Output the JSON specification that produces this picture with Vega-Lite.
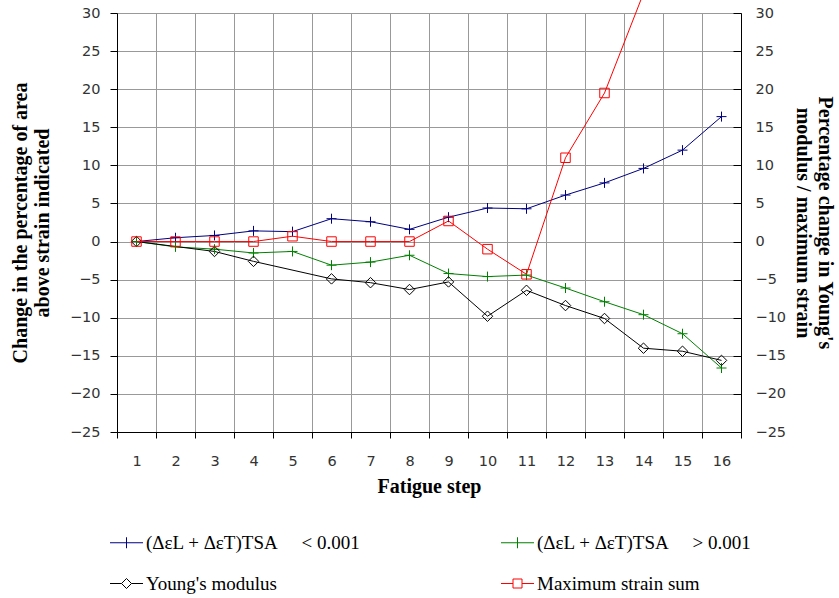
{
  "$schema": "https://vega.github.io/schema/vega-lite/v6.json",
  "width": 624,
  "height": 419,
  "autosize": {"type": "none"},
  "padding": {"left": 117, "top": 13, "right": 98, "bottom": 166},
  "background": "white",
  "config": {
    "view": {"stroke": null},
    "axis": {
      "labelFont": "DejaVu Sans",
      "labelFontSize": 14.5,
      "labelColor": "#333333",
      "titleFont": "Liberation Serif",
      "titleFontSize": 20,
      "titleFontWeight": "bold",
      "titleColor": "black",
      "domainColor": "black",
      "tickColor": "black",
      "gridColor": "#999999",
      "gridWidth": 1
    }
  },
  "data": {
    "values": [
      {"step": 1, "series": "(ΔεL + ΔεT)TSA\u00a0\u00a0\u00a0\u00a0\u00a0< 0.001", "value": 0},
      {"step": 2, "series": "(ΔεL + ΔεT)TSA\u00a0\u00a0\u00a0\u00a0\u00a0< 0.001", "value": 0.5},
      {"step": 3, "series": "(ΔεL + ΔεT)TSA\u00a0\u00a0\u00a0\u00a0\u00a0< 0.001", "value": 0.8},
      {"step": 4, "series": "(ΔεL + ΔεT)TSA\u00a0\u00a0\u00a0\u00a0\u00a0< 0.001", "value": 1.4},
      {"step": 5, "series": "(ΔεL + ΔεT)TSA\u00a0\u00a0\u00a0\u00a0\u00a0< 0.001", "value": 1.3},
      {"step": 6, "series": "(ΔεL + ΔεT)TSA\u00a0\u00a0\u00a0\u00a0\u00a0< 0.001", "value": 3.0},
      {"step": 7, "series": "(ΔεL + ΔεT)TSA\u00a0\u00a0\u00a0\u00a0\u00a0< 0.001", "value": 2.6},
      {"step": 8, "series": "(ΔεL + ΔεT)TSA\u00a0\u00a0\u00a0\u00a0\u00a0< 0.001", "value": 1.6},
      {"step": 9, "series": "(ΔεL + ΔεT)TSA\u00a0\u00a0\u00a0\u00a0\u00a0< 0.001", "value": 3.2},
      {"step": 10, "series": "(ΔεL + ΔεT)TSA\u00a0\u00a0\u00a0\u00a0\u00a0< 0.001", "value": 4.4},
      {"step": 11, "series": "(ΔεL + ΔεT)TSA\u00a0\u00a0\u00a0\u00a0\u00a0< 0.001", "value": 4.3},
      {"step": 12, "series": "(ΔεL + ΔεT)TSA\u00a0\u00a0\u00a0\u00a0\u00a0< 0.001", "value": 6.1},
      {"step": 13, "series": "(ΔεL + ΔεT)TSA\u00a0\u00a0\u00a0\u00a0\u00a0< 0.001", "value": 7.7},
      {"step": 14, "series": "(ΔεL + ΔεT)TSA\u00a0\u00a0\u00a0\u00a0\u00a0< 0.001", "value": 9.6},
      {"step": 15, "series": "(ΔεL + ΔεT)TSA\u00a0\u00a0\u00a0\u00a0\u00a0< 0.001", "value": 12.0},
      {"step": 16, "series": "(ΔεL + ΔεT)TSA\u00a0\u00a0\u00a0\u00a0\u00a0< 0.001", "value": 16.4},
      {"step": 1, "series": "(ΔεL + ΔεT)TSA\u00a0\u00a0\u00a0\u00a0\u00a0> 0.001", "value": 0},
      {"step": 2, "series": "(ΔεL + ΔεT)TSA\u00a0\u00a0\u00a0\u00a0\u00a0> 0.001", "value": -0.7},
      {"step": 3, "series": "(ΔεL + ΔεT)TSA\u00a0\u00a0\u00a0\u00a0\u00a0> 0.001", "value": -1.0},
      {"step": 4, "series": "(ΔεL + ΔεT)TSA\u00a0\u00a0\u00a0\u00a0\u00a0> 0.001", "value": -1.5},
      {"step": 5, "series": "(ΔεL + ΔεT)TSA\u00a0\u00a0\u00a0\u00a0\u00a0> 0.001", "value": -1.3},
      {"step": 6, "series": "(ΔεL + ΔεT)TSA\u00a0\u00a0\u00a0\u00a0\u00a0> 0.001", "value": -3.1},
      {"step": 7, "series": "(ΔεL + ΔεT)TSA\u00a0\u00a0\u00a0\u00a0\u00a0> 0.001", "value": -2.7},
      {"step": 8, "series": "(ΔεL + ΔεT)TSA\u00a0\u00a0\u00a0\u00a0\u00a0> 0.001", "value": -1.8},
      {"step": 9, "series": "(ΔεL + ΔεT)TSA\u00a0\u00a0\u00a0\u00a0\u00a0> 0.001", "value": -4.2},
      {"step": 10, "series": "(ΔεL + ΔεT)TSA\u00a0\u00a0\u00a0\u00a0\u00a0> 0.001", "value": -4.6},
      {"step": 11, "series": "(ΔεL + ΔεT)TSA\u00a0\u00a0\u00a0\u00a0\u00a0> 0.001", "value": -4.4},
      {"step": 12, "series": "(ΔεL + ΔεT)TSA\u00a0\u00a0\u00a0\u00a0\u00a0> 0.001", "value": -6.1},
      {"step": 13, "series": "(ΔεL + ΔεT)TSA\u00a0\u00a0\u00a0\u00a0\u00a0> 0.001", "value": -7.9},
      {"step": 14, "series": "(ΔεL + ΔεT)TSA\u00a0\u00a0\u00a0\u00a0\u00a0> 0.001", "value": -9.6},
      {"step": 15, "series": "(ΔεL + ΔεT)TSA\u00a0\u00a0\u00a0\u00a0\u00a0> 0.001", "value": -12.1},
      {"step": 16, "series": "(ΔεL + ΔεT)TSA\u00a0\u00a0\u00a0\u00a0\u00a0> 0.001", "value": -16.6},
      {"step": 1, "series": "Young's modulus", "value": 0},
      {"step": 3, "series": "Young's modulus", "value": -1.3},
      {"step": 4, "series": "Young's modulus", "value": -2.6},
      {"step": 6, "series": "Young's modulus", "value": -4.9},
      {"step": 7, "series": "Young's modulus", "value": -5.4},
      {"step": 8, "series": "Young's modulus", "value": -6.3},
      {"step": 9, "series": "Young's modulus", "value": -5.3},
      {"step": 10, "series": "Young's modulus", "value": -9.8},
      {"step": 11, "series": "Young's modulus", "value": -6.4},
      {"step": 12, "series": "Young's modulus", "value": -8.4},
      {"step": 13, "series": "Young's modulus", "value": -10.1},
      {"step": 14, "series": "Young's modulus", "value": -14.0},
      {"step": 15, "series": "Young's modulus", "value": -14.4},
      {"step": 16, "series": "Young's modulus", "value": -15.6},
      {"step": 1, "series": "Maximum strain sum", "value": 0},
      {"step": 2, "series": "Maximum strain sum", "value": 0},
      {"step": 3, "series": "Maximum strain sum", "value": 0},
      {"step": 4, "series": "Maximum strain sum", "value": 0},
      {"step": 5, "series": "Maximum strain sum", "value": 0.7},
      {"step": 6, "series": "Maximum strain sum", "value": 0},
      {"step": 7, "series": "Maximum strain sum", "value": 0},
      {"step": 8, "series": "Maximum strain sum", "value": 0},
      {"step": 9, "series": "Maximum strain sum", "value": 2.7},
      {"step": 10, "series": "Maximum strain sum", "value": -1.0},
      {"step": 11, "series": "Maximum strain sum", "value": -4.3},
      {"step": 12, "series": "Maximum strain sum", "value": 11.0},
      {"step": 13, "series": "Maximum strain sum", "value": 19.5},
      {"step": 14, "series": "Maximum strain sum", "value": 32.6}
    ]
  },
  "encoding": {
    "x": {
      "field": "step",
      "type": "ordinal",
      "scale": {"type": "band", "paddingInner": 0, "paddingOuter": 0},
      "axis": {
        "title": "Fatigue step",
        "labelAngle": 0,
        "tickBand": "extent",
        "grid": true,
        "tickSize": 6,
        "labelPadding": 16,
        "titleY": 54,
        "titleBaseline": "middle"
      }
    }
  },
  "layer": [
    {
      "transform": [{"filter": "datum.series !== 'Maximum strain sum'"}],
      "encoding": {
        "y": {
          "field": "value",
          "type": "quantitative",
          "scale": {"domain": [-25, 30], "nice": false, "zero": false},
          "axis": {
            "orient": "left",
            "values": [-25, -20, -15, -10, -5, 0, 5, 10, 15, 20, 25, 30],
            "title": ["Change in the percentage of area", "above strain indicated"],
            "tickSize": 7,
            "labelPadding": 10,
            "grid": true,
            "titleX": -97,
            "titleY": 209.5,
            "titleAngle": -90,
            "titleBaseline": "middle",
            "titleAlign": "center",
            "titleLineHeight": 22
          }
        }
      },
      "layer": [
        {
          "mark": {"type": "line", "strokeWidth": 1},
          "encoding": {
            "color": {
              "field": "series",
              "type": "nominal",
              "scale": {
                "domain": ["(ΔεL + ΔεT)TSA\u00a0\u00a0\u00a0\u00a0\u00a0< 0.001", "(ΔεL + ΔεT)TSA\u00a0\u00a0\u00a0\u00a0\u00a0> 0.001", "Young's modulus", "Maximum strain sum"],
                "range": ["#000080", "#008000", "#000000", "#ff0000"]
              },
              "legend": {
                "title": null,
                "orient": "none",
                "direction": "horizontal",
                "legendX": 0,
                "legendY": 520,
                "columns": 2,
                "columnPadding": 138,
                "rowPadding": 21,
                "padding": 0,
                "symbolSize": 100,
                "symbolStrokeWidth": 1,
                "labelFont": "Liberation Serif",
                "labelFontSize": 19,
                "labelColor": "black",
                "labelOffset": 10,
                "labelLimit": 500,
                "encode": {
                  "symbols": {
                    "update": {
                      "shape": {"signal": "datum.value === \"Young's modulus\" ? 'M-3.3,0L-1,0M1,0L3.3,0M-1,0L0,-1L1,0L0,1Z' : (datum.value === 'Maximum strain sum' ? 'M-3.3,0L-0.9,0M0.9,0L3.3,0M-0.9,-0.9L0.9,-0.9L0.9,0.9L-0.9,0.9Z' : 'M-3.3,0L3.3,0M0,-1.1L0,1.1')"},
                      "fill": {"value": "transparent"},
                      "strokeWidth": {"value": 1}
                    }
                  }
                }
              }
            }
          }
        },
        {
          "transform": [{"filter": "datum.series !== \"Young's modulus\""}],
          "mark": {"type": "point", "shape": "M-1,0L1,0M0,-1L0,1", "filled": false, "strokeWidth": 1, "size": 100, "opacity": 1},
          "encoding": {
            "stroke": {
              "field": "series",
              "type": "nominal",
              "scale": {
                "domain": ["(ΔεL + ΔεT)TSA\u00a0\u00a0\u00a0\u00a0\u00a0< 0.001", "(ΔεL + ΔεT)TSA\u00a0\u00a0\u00a0\u00a0\u00a0> 0.001", "Young's modulus", "Maximum strain sum"],
                "range": ["#000080", "#008000", "#000000", "#ff0000"]
              },
              "legend": null
            }
          }
        },
        {
          "transform": [{"filter": "datum.series === \"Young's modulus\""}],
          "mark": {"type": "point", "shape": "diamond", "filled": false, "strokeWidth": 1, "size": 110, "opacity": 1},
          "encoding": {
            "stroke": {"field": "series", "type": "nominal", "legend": null}
          }
        }
      ]
    },
    {
      "transform": [{"filter": "datum.series === 'Maximum strain sum'"}],
      "encoding": {
        "y": {
          "field": "value",
          "type": "quantitative",
          "scale": {"domain": [-25, 30], "nice": false, "zero": false},
          "axis": {
            "orient": "right",
            "values": [-25, -20, -15, -10, -5, 0, 5, 10, 15, 20, 25, 30],
            "title": ["Percentage change in Young's", "modulus / maximum strain"],
            "tickSize": -8,
            "labelPadding": 22,
            "grid": false,
            "titleX": 83,
            "titleY": 209.5,
            "titleAngle": 90,
            "titleBaseline": "middle",
            "titleAlign": "center",
            "titleLineHeight": 22
          }
        }
      },
      "layer": [
        {
          "mark": {"type": "line", "strokeWidth": 1},
          "encoding": {
            "color": {"field": "series", "type": "nominal"}
          }
        },
        {
          "mark": {"type": "point", "shape": "square", "filled": false, "strokeWidth": 1, "size": 90, "opacity": 1},
          "encoding": {
            "stroke": {"field": "series", "type": "nominal", "legend": null}
          }
        }
      ]
    }
  ],
  "resolve": {"scale": {"y": "independent"}}
}
